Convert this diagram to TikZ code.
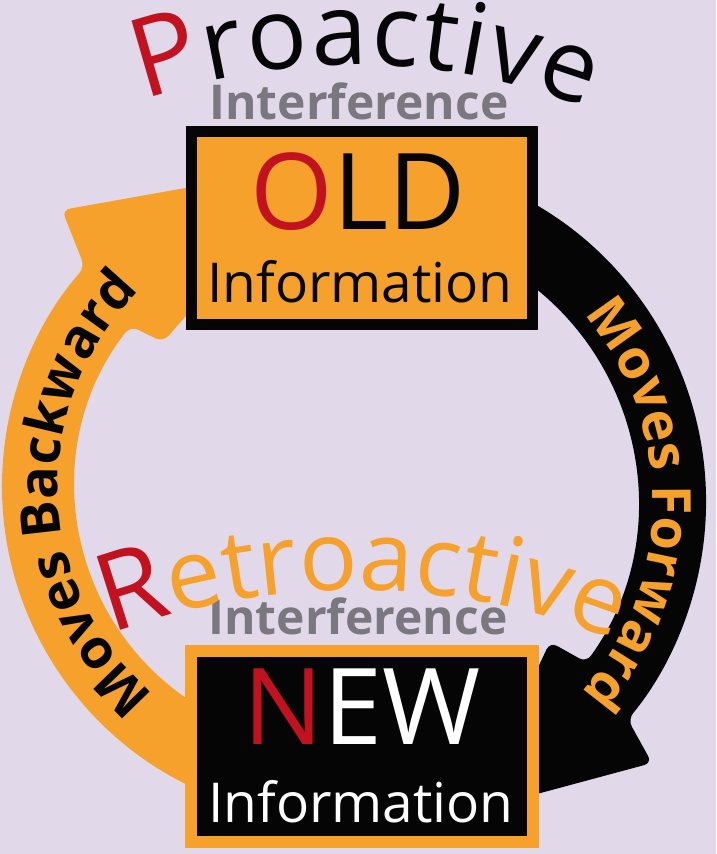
\documentclass[tikz,border=0pt]{standalone}
\usepackage{fontspec}
\newfontfamily\osf{Open Sans}
\usetikzlibrary{calc,decorations.text}
\definecolor{bg}{HTML}{E1D9EA}
\definecolor{org}{HTML}{F6A12B}
\definecolor{pred}{HTML}{C3121F}
\definecolor{igray}{HTML}{7A777E}
\definecolor{blk}{HTML}{050505}
\newcommand\fs[1]{\fontsize{#1pt}{#1pt}\selectfont}
\newcommand\bandfont{\osf\bfseries\fs{54}}
\begin{document}
\begin{tikzpicture}[x=1pt,y=1pt,
  boxtxt/.style={anchor=base, inner sep=0pt},
  infobox/.style={inner sep=0pt, minimum width=341pt, minimum height=193pt},
  arrowshape/.style={rounded corners=8pt}]
\useasboundingbox (0,0) rectangle (716,854);
\fill[bg] (0,0) rectangle (716,854);
\coordinate (CL) at (333,368);
\coordinate (CR) at (364,352);
\coordinate (PC) at (355,142);
\coordinate (RC) at (355,-441);
% left orange arrow (moves backward)
\fill[org, arrowshape] ($(CL)+(265:331)$) arc[start angle=265, end angle=138.6, radius=331]
  -- (62,644) -- (320,690) -- (163,512) -- ($(CL)+(141.7:258)$)
  arc[start angle=141.7, end angle=265, radius=258] -- cycle;
% right black arrow (moves forward)
\fill[blk, arrowshape] ($(CR)+(80:342)$) arc[start angle=80, end angle=-39.5, radius=342]
  -- (652,91) -- (470,42) -- (550,212) -- ($(CR)+(-35.8:274)$)
  arc[start angle=-35.8, end angle=80, radius=274] -- cycle;
% band labels
\path[decorate, decoration={text along path, text align=center,
  text={|\bandfont\color{blk}|Moves Backward}}]
  ($(CL)+(240:275)$) arc[start angle=240, end angle=124, radius=275];
\path[decorate, decoration={text along path, text align=center,
  text={|\bandfont\color{org}|Moves Forward}}]
  ($(CR)+(60:289)$) arc[start angle=60, end angle=-61, radius=289];
% boxes
\node[infobox, fill=org, draw=blk, line width=11pt] (old) at (362,626) {};
\node[infobox, fill=blk, draw=org, line width=12pt, minimum width=342pt, minimum height=191pt] (new) at (362,107.5) {};
\node[boxtxt, font=\osf\fs{106}] (oldw) at (358,624) {\textcolor{pred}{O}\textcolor{blk}{LD}};
\node[boxtxt, font=\osf\fs{55}, text=blk] (oldi) at (360,551) {Information};
\node[boxtxt, font=\osf\fs{106}] (neww) at (362,109) {\textcolor{pred}{N}\textcolor{white}{EW}};
\node[boxtxt, font=\osf\fs{55}, text=white] (newi) at (361,31) {Information};
% interference labels
\node[boxtxt, font=\osf\bfseries\fs{48}, text=igray] (pint) at (359,734) {Interference};
\node[boxtxt, font=\osf\bfseries\fs{48}, text=igray] (rint) at (358,219) {Interference};
% curved titles
\path[decorate, decoration={text along path, text align={fit to path},
  text={|\osf\fs{110}\color{pred}|P|\osf\fs{100}\color{blk}|roactive}}]
  ($(PC)+(109.1:647)$) arc[start angle=109.1, end angle=69, radius=647];
\path[decorate, decoration={text along path, text align={fit to path},
  text={|\osf\fs{108}\color{pred}|R|\osf\fs{97}\color{org}|etroactive}}]
  ($(RC)+(110.3:705)$) arc[start angle=110.3, end angle=69.1, radius=705];
\end{tikzpicture}
\end{document}
